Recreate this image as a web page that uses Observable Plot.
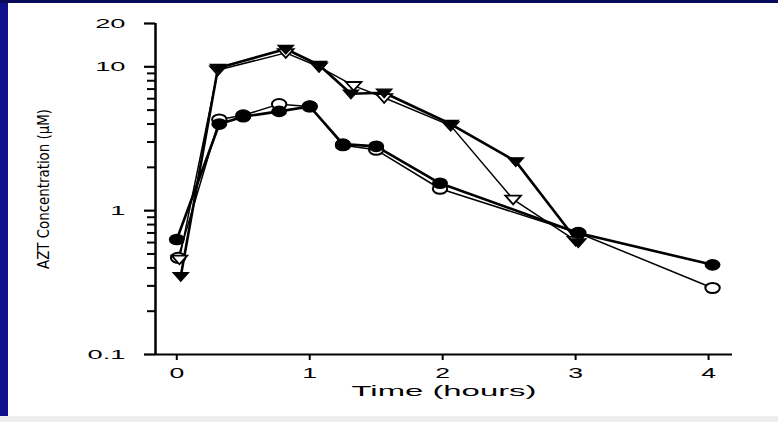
<!DOCTYPE html>
<html><head><meta charset="utf-8">
<script src="https://cdn.jsdelivr.net/npm/d3@7"></script>
<script src="https://cdn.jsdelivr.net/npm/@observablehq/plot@0.6"></script>
<style>
html,body{margin:0;padding:0;background:#fff;overflow:hidden}
#wrap{position:relative;width:778px;height:422px;background:#fff}
#chart{position:absolute;left:0;top:0}
#left{position:absolute;left:0;top:0;width:8px;height:422px;background:#10108c}
#top{position:absolute;left:0;top:0;width:778px;height:3px;background:#0a0a5a}
#bottom{position:absolute;left:0;top:416px;width:778px;height:6px;background:#eeeeee}
</style></head><body>
<div id="wrap"><div id="chart"></div><div id="left"></div><div id="top"></div><div id="bottom"></div></div>
<script>
// ---- data (time in hours, AZT concentration in µM) ----
const triFilledTime = [0.03, 0.31, 0.82, 1.07, 1.31, 1.56, 2.06, 2.55, 3.02];
const triFilledConc = [0.35, 9.8, 13.3, 10.3, 6.5, 6.6, 4.0, 2.2, 0.6];
const triOpenTime   = [0.02, 0.31, 0.82, 1.07, 1.33, 1.56, 2.06, 2.53, 3.0];
const triOpenConc   = [0.46, 9.5, 12.5, 10.0, 7.4, 6.1, 3.9, 1.2, 0.62];
const circFilledTime = [0, 0.32, 0.5, 0.77, 1.0, 1.25, 1.5, 1.98, 3.02, 4.03];
const circFilledConc = [0.63, 4.0, 4.5, 4.9, 5.3, 2.9, 2.8, 1.55, 0.7, 0.42];
const circOpenTime   = [0.01, 0.32, 0.5, 0.77, 1.0, 1.25, 1.5, 1.98, 3.02, 4.03];
const circOpenConc   = [0.47, 4.3, 4.6, 5.5, 5.3, 2.85, 2.65, 1.42, 0.7, 0.29];

const xDomain = [-0.16, 4.18];
const yDomain = [0.1, 20];
const xTicks = [0, 1, 2, 3, 4];
const yTicks = [0.1, 1, 10, 20];
const yTickLabels = ["0.1", "1", "10", "20"];
const yMinorTicks = [0.2,0.3,0.4,0.5,0.6,0.7,0.8,0.9,2,3,4,5,6,7,8,9];
const xLabel = "Time (hours)";
const yLabel = "AZT Concentration (\u03bcM)";

const toRows = (t, c) => t.map((d, i) => ({t: d, c: c[i]}));
const triFilled = toRows(triFilledTime, triFilledConc);
const triOpen = toRows(triOpenTime, triOpenConc);
const circFilled = toRows(circFilledTime, circFilledConc);
const circOpen = toRows(circOpenTime, circOpenConc);

// custom symbols: flattened ellipse (scanned circle) and down-pointing triangle
const ellipse = {draw(ctx, size) {
  const r = Math.sqrt(size / Math.PI), rx = r * 1.2, ry = r * 0.85, k = 0.5523;
  ctx.moveTo(rx, 0);
  ctx.bezierCurveTo(rx, ry * k, rx * k, ry, 0, ry);
  ctx.bezierCurveTo(-rx * k, ry, -rx, ry * k, -rx, 0);
  ctx.bezierCurveTo(-rx, -ry * k, -rx * k, -ry, 0, -ry);
  ctx.bezierCurveTo(rx * k, -ry, rx, -ry * k, rx, 0);
  ctx.closePath();
}};
const triDown = {draw(ctx, size) {
  const r = Math.sqrt(size / Math.PI);
  ctx.moveTo(-r * 1.3, -r * 0.6);
  ctx.lineTo(r * 1.3, -r * 0.6);
  ctx.lineTo(0, r * 0.85);
  ctx.closePath();
}};

const tickFont = "'Liberation Sans', Arial, sans-serif";
const chart = Plot.plot({
  width: 778, height: 422,
  marginLeft: 155, marginRight: 46, marginTop: 23, marginBottom: 68,
  style: {background: "transparent", color: "#000", fontFamily: tickFont},
  x: {domain: xDomain},
  y: {type: "log", domain: yDomain},
  marks: [
    Plot.ruleX([xDomain[0]], {stroke: "#000", strokeWidth: 2.5}),
    Plot.ruleY([yDomain[0]], {stroke: "#000", strokeWidth: 1.8}),
    Plot.axisY({ticks: yMinorTicks, tickFormat: () => "", tickSize: 8, strokeWidth: 2, label: null}),
    Plot.axisY({ticks: yTicks, tickFormat: d => yTickLabels[yTicks.indexOf(d)],
                tickSize: 11, tickPadding: 19, strokeWidth: 2.2, fontSize: 13, label: null}),
    Plot.axisX({ticks: xTicks, tickFormat: d => String(d), tickSize: 6, tickPadding: 8, strokeWidth: 2, fontSize: 14, label: null}),
    Plot.text([xLabel], {frameAnchor: "bottom", lineAnchor: "middle", textAnchor: "middle", dy: 37, fontSize: 15,
                         fontFamily: tickFont, fill: "#000"}),
    Plot.text([yLabel], {frameAnchor: "left", textAnchor: "middle", lineAnchor: "middle", rotate: -90, dx: -112, fontSize: 16,
                         fontFamily: "'Liberation Sans Narrow','DejaVu Sans Condensed','DejaVu Sans',sans-serif", fill: "#000"}),
    Plot.line(triOpen, {x: "t", y: "c", stroke: "#000", strokeWidth: 1.5}),
    Plot.line(circOpen, {x: "t", y: "c", stroke: "#000", strokeWidth: 1.5}),
    Plot.line(triFilled, {x: "t", y: "c", stroke: "#000", strokeWidth: 2.6}),
    Plot.line(circFilled, {x: "t", y: "c", stroke: "#000", strokeWidth: 2.6}),
    Plot.dot(circOpen, {x: "t", y: "c", symbol: ellipse, r: 6, fill: "#fff", stroke: "#000", strokeWidth: 2}),
    Plot.dot(triOpen, {x: "t", y: "c", symbol: triDown, r: 6, fill: "#fff", stroke: "#000", strokeWidth: 1.8}),
    Plot.dot(circFilled, {x: "t", y: "c", symbol: ellipse, r: 6, fill: "#000", stroke: "#000", strokeWidth: 1.5}),
    Plot.dot(triFilled, {x: "t", y: "c", symbol: triDown, r: 6, fill: "#000", stroke: "#000", strokeWidth: 1.2})
  ]
});

// stretch the scanned-looking wide lettering horizontally
function stretch(sel, sx) {
  chart.querySelectorAll(sel).forEach(t => {
    const tr = t.getAttribute("transform") || "";
    t.setAttribute("transform", tr + ` scale(${sx},1)`);
  });
}
stretch('g[aria-label="y-axis tick label"] text', 2.1);
stretch('g[aria-label="x-axis tick label"] text', 1.9);
chart.querySelectorAll("text").forEach(t => {
  if (t.textContent === xLabel) { t.setAttribute("textLength", 185); t.setAttribute("lengthAdjust", "spacingAndGlyphs"); }
  if (t.textContent === yLabel) { t.setAttribute("textLength", 160); t.setAttribute("lengthAdjust", "spacingAndGlyphs"); }
});
document.getElementById("chart").appendChild(chart);
</script>
</body></html>
